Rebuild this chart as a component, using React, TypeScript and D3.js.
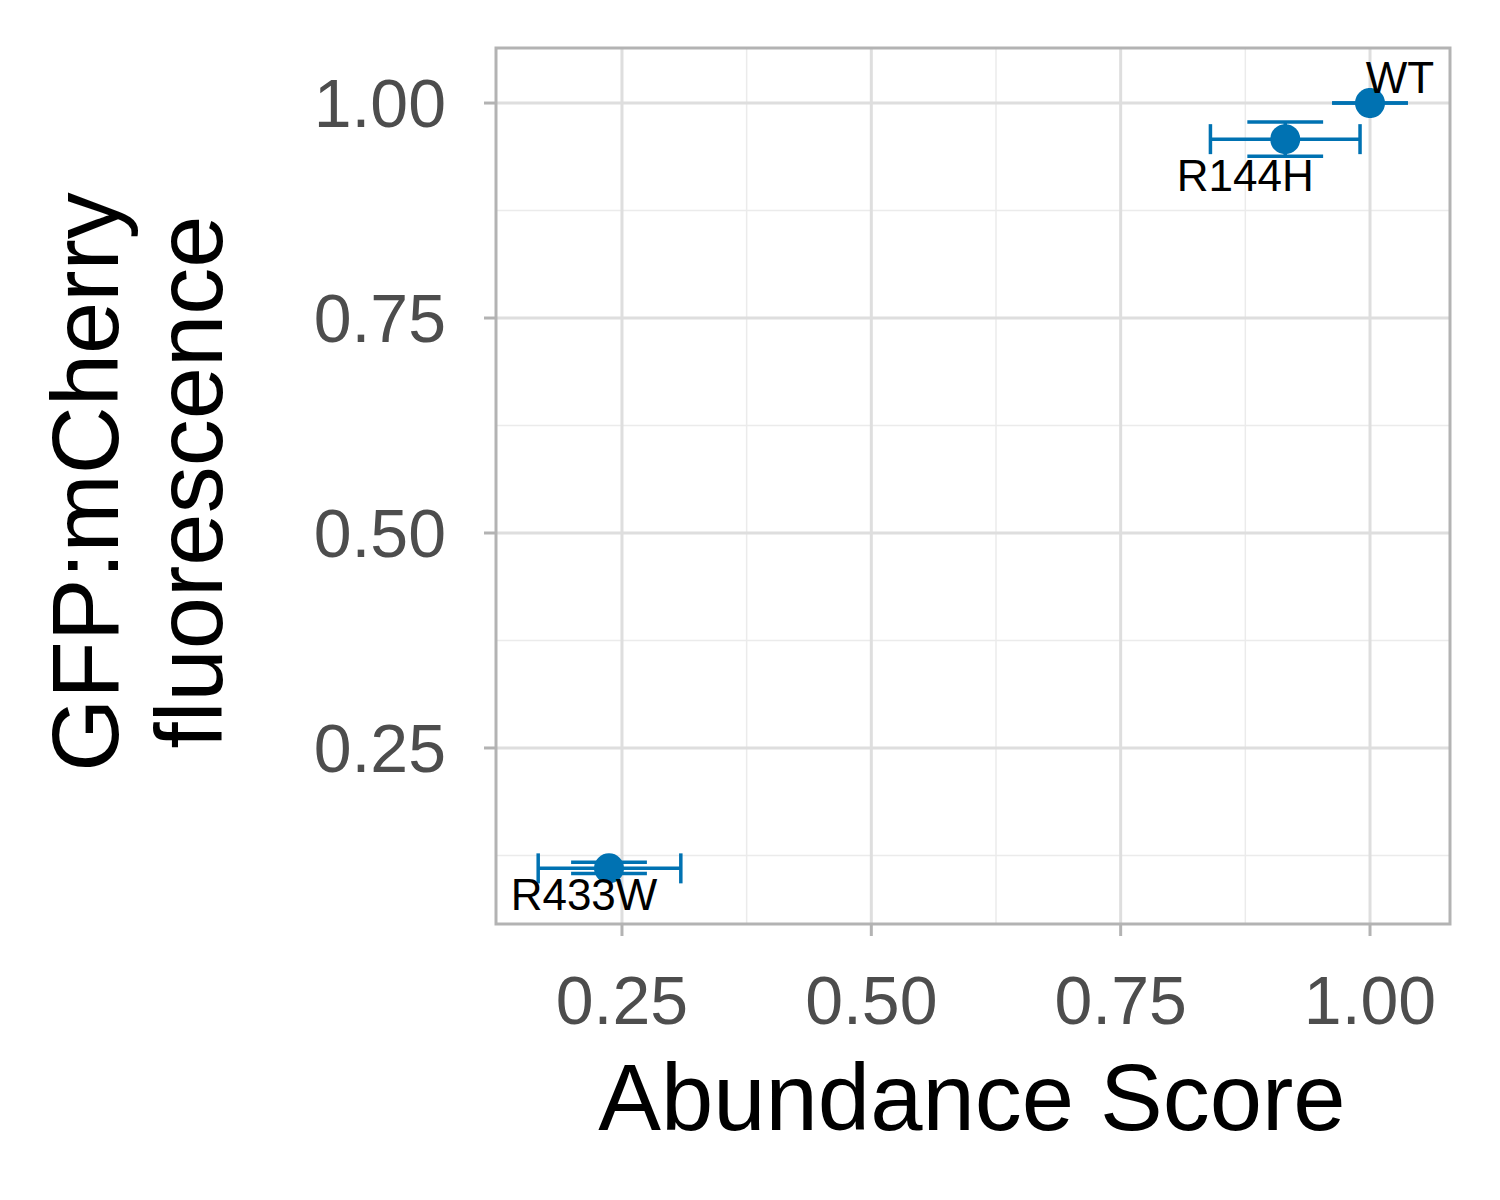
import React from 'react';
import { scaleLinear } from 'd3';

const labels = ['WT', 'R144H', 'R433W'];
const abundance = [1.0, 0.915, 0.237];
const abundanceLo = [1.0, 0.84, 0.166];
const abundanceHi = [1.0, 0.99, 0.309];
const fluor = [1.0, 0.958, 0.11];
const fluorLo = [1.0, 0.938, 0.104];
const fluorHi = [1.0, 0.978, 0.117];
const labelDx = [30, -40, -25];
const labelDy = [-10, 52, 42];

const xTicks = [0.25, 0.5, 0.75, 1.0];
const yTicks = [0.25, 0.5, 0.75, 1.0];
const xMinor = [0.375, 0.625, 0.875];
const yMinor = [0.125, 0.375, 0.625, 0.875];

const BLUE = '#0072B2';
const FONT = 'Liberation Sans, Arial, sans-serif';

export default function App() {
  const left = 496, right = 1450, top = 48, bottom = 924;
  const x = scaleLinear().domain([0.1237, 1.0802]).range([left, right]);
  const y = scaleLinear().domain([0.0453, 1.064]).range([bottom, top]);
  const capW = 0.038;
  const capH = 15;

  return (
    <svg width={1500} height={1200} style={{ position: 'absolute', left: 0, top: 0, background: '#fff' }}>
      <rect x={left} y={top} width={right - left} height={bottom - top} fill="#fff" />
      {xMinor.map((t) => (
        <line key={`xm${t}`} x1={x(t)} x2={x(t)} y1={top} y2={bottom} stroke="#ebebeb" strokeWidth={1.5} />
      ))}
      {yMinor.map((t) => (
        <line key={`ym${t}`} y1={y(t)} y2={y(t)} x1={left} x2={right} stroke="#ebebeb" strokeWidth={1.5} />
      ))}
      {xTicks.map((t) => (
        <line key={`xg${t}`} x1={x(t)} x2={x(t)} y1={top} y2={bottom} stroke="#dedede" strokeWidth={3} />
      ))}
      {yTicks.map((t) => (
        <line key={`yg${t}`} y1={y(t)} y2={y(t)} x1={left} x2={right} stroke="#dedede" strokeWidth={3} />
      ))}
      <rect x={left} y={top} width={right - left} height={bottom - top} fill="none" stroke="#b3b3b3" strokeWidth={3} />

      {xTicks.map((t) => (
        <g key={`xt${t}`}>
          <line x1={x(t)} x2={x(t)} y1={bottom} y2={bottom + 12} stroke="#b3b3b3" strokeWidth={3} />
          <text x={x(t)} y={1024} textAnchor="middle" fontSize={68} fill="#4d4d4d" fontFamily={FONT}>
            {t.toFixed(2)}
          </text>
        </g>
      ))}
      {yTicks.map((t) => (
        <g key={`yt${t}`}>
          <line x1={left - 12} x2={left} y1={y(t)} y2={y(t)} stroke="#b3b3b3" strokeWidth={3} />
          <text x={left - 50} y={y(t) + 24} textAnchor="end" fontSize={68} fill="#4d4d4d" fontFamily={FONT}>
            {t.toFixed(2)}
          </text>
        </g>
      ))}

      {labels.map((l, i) => (
        <g key={l} stroke={BLUE} strokeWidth={3.5}>
          <line x1={x(abundance[i])} x2={x(abundance[i])} y1={y(fluorLo[i])} y2={y(fluorHi[i])} />
          <line x1={x(abundance[i] - capW)} x2={x(abundance[i] + capW)} y1={y(fluorLo[i])} y2={y(fluorLo[i])} />
          <line x1={x(abundance[i] - capW)} x2={x(abundance[i] + capW)} y1={y(fluorHi[i])} y2={y(fluorHi[i])} />
          <line x1={x(abundanceLo[i])} x2={x(abundanceHi[i])} y1={y(fluor[i])} y2={y(fluor[i])} />
          <line x1={x(abundanceLo[i])} x2={x(abundanceLo[i])} y1={y(fluor[i]) - capH} y2={y(fluor[i]) + capH} />
          <line x1={x(abundanceHi[i])} x2={x(abundanceHi[i])} y1={y(fluor[i]) - capH} y2={y(fluor[i]) + capH} />
          <circle cx={x(abundance[i])} cy={y(fluor[i])} r={15} fill={BLUE} stroke="none" />
        </g>
      ))}
      {labels.map((l, i) => (
        <text key={`lab${l}`} x={x(abundance[i]) + labelDx[i]} y={y(fluor[i]) + labelDy[i]} textAnchor="middle"
          fontSize={44} fill="#000" fontFamily={FONT}>
          {l}
        </text>
      ))}

      <text x={972} y={1130} textAnchor="middle" fontSize={94} fill="#000" fontFamily={FONT}>
        Abundance Score
      </text>
      <text transform={`translate(118, 482) rotate(-90)`} textAnchor="middle" fontSize={94} fill="#000" fontFamily={FONT}>
        GFP:mCherry
      </text>
      <text transform={`translate(222, 482) rotate(-90)`} textAnchor="middle" fontSize={94} fill="#000" fontFamily={FONT}>
        fluorescence
      </text>
    </svg>
  );
}
